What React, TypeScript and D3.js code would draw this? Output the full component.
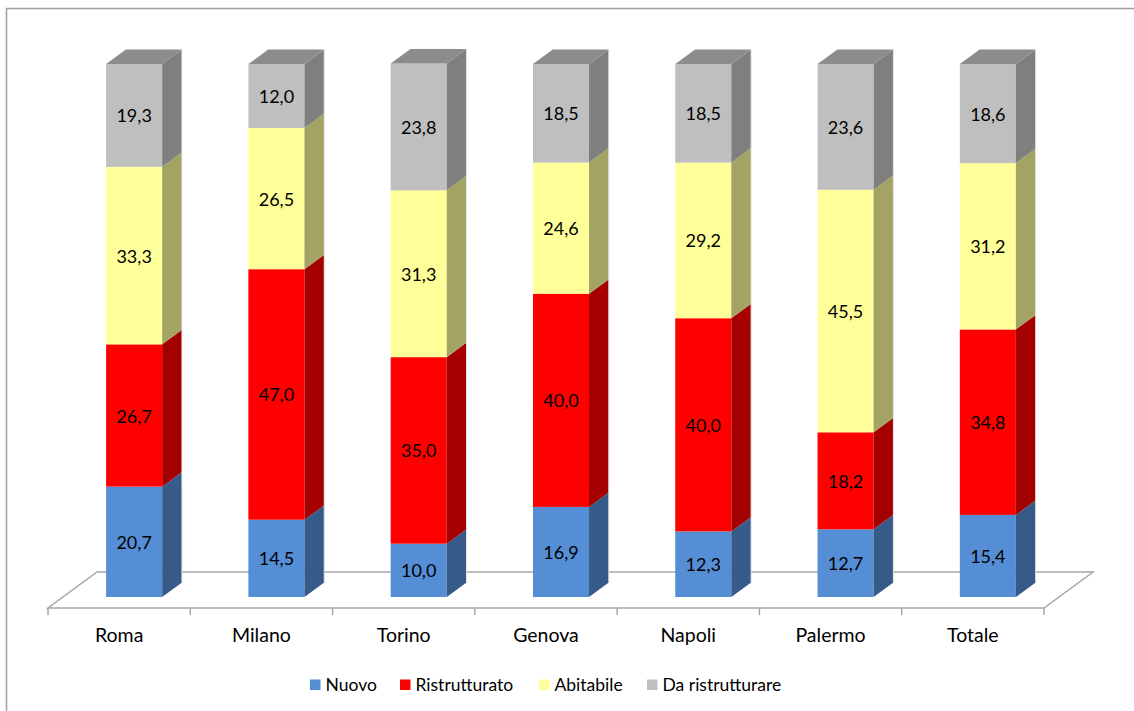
import React from "react";
import * as d3 from "d3";

const categories = ["Roma", "Milano", "Torino", "Genova", "Napoli", "Palermo", "Totale"];
const seriesNames = ["Nuovo", "Ristrutturato", "Abitabile", "Da ristrutturare"];
const nuovo = [20.7, 14.5, 10.0, 16.9, 12.3, 12.7, 15.4];
const ristrutturato = [26.7, 47.0, 35.0, 40.0, 40.0, 18.2, 34.8];
const abitabile = [33.3, 26.5, 31.3, 24.6, 29.2, 45.5, 31.2];
const daRistrutturare = [19.3, 12.0, 23.8, 18.5, 18.5, 23.6, 18.6];

const frontColors = ["#558ED5", "#FF0000", "#FFFF99", "#BFBFBF"];
const sideColors = ["#365B89", "#A50000", "#A3A363", "#7F7F7F"];
const topColors = ["#3E69A0", "#B80000", "#BDBD72", "#8C8C8C"];

const W = 1134;
const H = 711;
const FONT = "Lato, 'Open Sans', sans-serif";

// floor geometry (front edge and depth vector)
const floorLeft = 48;
const floorRight = 1044;
const floorFrontY = 608;
const depthX = 49;
const depthY = -36;
// bar sits between these fractions of the floor depth
const barFront = 0.306;
const barBack = 0.71;

const fmt = (v: number) => v.toFixed(1).replace(".", ",");

export default function App() {
  const x = d3
    .scaleBand<string>()
    .domain(categories)
    .range([floorLeft, floorRight])
    .paddingInner(0.606)
    .paddingOuter(0.303);

  const frontShiftX = depthX * barFront;
  const frontBaseY = floorFrontY + depthY * barFront;
  const sideDx = depthX * (barBack - barFront);
  const sideDy = depthY * (barBack - barFront);

  const y = d3.scaleLinear().domain([0, 100]).range([frontBaseY, 64]);

  const rows = categories.map((c, i) => ({
    cat: c,
    Nuovo: nuovo[i],
    Ristrutturato: ristrutturato[i],
    Abitabile: abitabile[i],
    "Da ristrutturare": daRistrutturare[i],
  }));
  const stack = d3.stack<any>().keys(seriesNames)(rows);

  const step = (floorRight - floorLeft) / categories.length;
  const ticks = d3.range(categories.length + 1).map((i) => floorLeft + i * step);
  const bw = x.bandwidth();

  const legendX = [310, 400, 539, 647];

  return (
    <svg width={W} height={H} style={{ position: "absolute", left: 0, top: 0 }}>
      <rect x={0} y={0} width={W} height={H} fill="#fff" />
      <rect x={6.5} y={8.5} width={W + 20} height={H + 20} fill="none" stroke="#A0A0A0" strokeWidth={1.5} />

      {/* floor */}
      <path
        d={`M${floorLeft},${floorFrontY} L${floorRight},${floorFrontY} L${floorRight + depthX},${floorFrontY + depthY} L${floorLeft + depthX},${floorFrontY + depthY} Z`}
        fill="none"
        stroke="#A6A6A6"
        strokeWidth={1.5}
      />
      {ticks.map((t, i) => (
        <line key={i} x1={t} x2={t} y1={floorFrontY} y2={floorFrontY + 7} stroke="#A6A6A6" strokeWidth={1.5} />
      ))}

      {/* bars */}
      {categories.map((c, ci) => {
        const x0 = (x(c) as number) + frontShiftX;
        const x1 = x0 + bw;
        return (
          <g key={c}>
            {stack.map((s, si) => {
              const d = s[ci];
              const yTop = y(d[1]);
              const yBot = y(d[0]);
              const isTop = si === stack.length - 1;
              return (
                <g key={si}>
                  <rect x={x0} y={yTop} width={bw} height={yBot - yTop} fill={frontColors[si]} />
                  <path
                    d={`M${x1},${yBot} L${x1 + sideDx},${yBot + sideDy} L${x1 + sideDx},${yTop + sideDy} L${x1},${yTop} Z`}
                    fill={sideColors[si]}
                  />
                  {isTop && (
                    <path
                      d={`M${x0},${yTop} L${x1},${yTop} L${x1 + sideDx},${yTop + sideDy} L${x0 + sideDx},${yTop + sideDy} Z`}
                      fill={topColors[si]}
                    />
                  )}
                </g>
              );
            })}
            <line
              x1={x1 + sideDx}
              x2={x1 + sideDx}
              y1={y(100) + sideDy}
              y2={y(0) + sideDy}
              stroke="#E6E6E6"
              strokeWidth={1}
            />
            {stack.map((s, si) => {
              const d = s[ci];
              return (
                <text
                  key={"t" + si}
                  x={x0 + bw / 2}
                  y={(y(d[0]) + y(d[1])) / 2}
                  textAnchor="middle"
                  dominantBaseline="central"
                  fontFamily={FONT}
                  fontSize={18}
                  fill="#000"
                >
                  {fmt(d[1] - d[0])}
                </text>
              );
            })}
          </g>
        );
      })}

      {/* category labels */}
      {categories.map((c) => (
        <text
          key={c}
          x={(x(c) as number) + bw / 2}
          y={642}
          textAnchor="middle"
          fontFamily={FONT}
          fontSize={19.5}
          fill="#000"
        >
          {c}
        </text>
      ))}

      {/* legend */}
      {seriesNames.map((n, i) => (
        <g key={n}>
          <rect x={legendX[i]} y={679.5} width={10.5} height={10.5} fill={frontColors[i]} />
          <text x={legendX[i] + 15.5} y={691} fontFamily={FONT} fontSize={17.5} fill="#000">
            {n}
          </text>
        </g>
      ))}
    </svg>
  );
}
